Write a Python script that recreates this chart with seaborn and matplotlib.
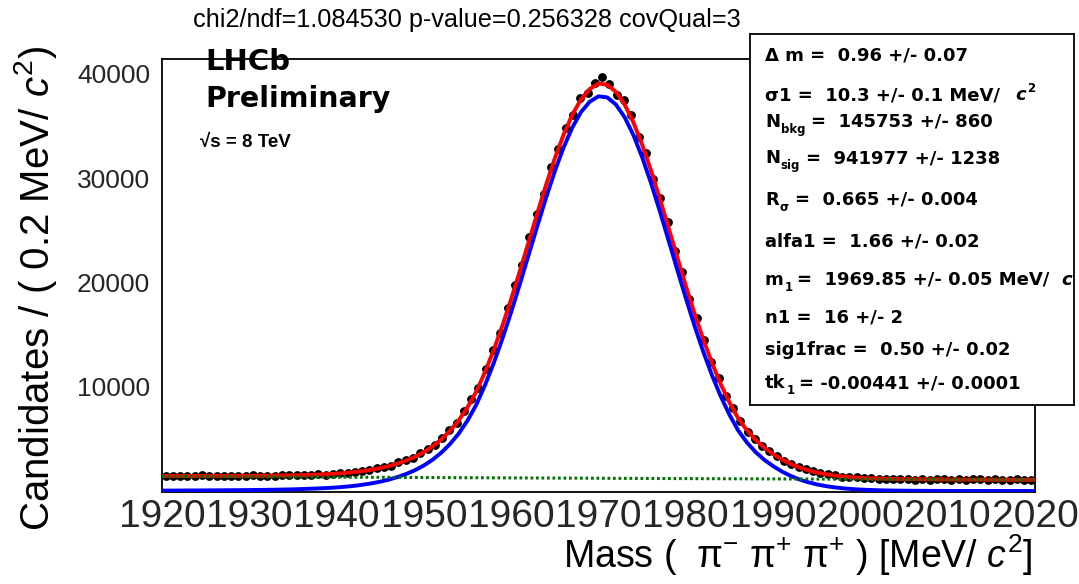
import numpy as np
import matplotlib
matplotlib.use("Agg")
import matplotlib.pyplot as plt
from matplotlib.ticker import MultipleLocator, FuncFormatter
import seaborn as sns

# ---------------------------------------------------------------- data
# Mass histogram: 120 bins of 100/120 MeV between 1920 and 2020
mass_lo, mass_hi, n_bins = 1920.0, 2020.0, 120
counts = [
    1467, 1416, 1481, 1402, 1447, 1488, 1398, 1465, 1426, 1480,
    1417, 1470, 1510, 1435, 1476, 1430, 1514, 1511, 1492, 1572,
    1543, 1615, 1579, 1670, 1738, 1715, 1836, 1955, 1983, 2160,
    2319, 2395, 2733, 2942, 3153, 3631, 4028, 4414, 5118, 5832,
    6473, 7632, 8814, 9917, 11683, 13542, 15178, 17509, 19767, 21655,
    24359, 26572, 28504, 31112, 32755, 34843, 36069, 37669, 38177, 39153,
    39722, 38984, 38016, 37488, 36085, 33920, 32438, 29872, 28054, 25757,
    23018, 21016, 18439, 16553, 14460, 12359, 10841, 9142, 7916, 6740,
    5690, 5007, 4279, 3843, 3360, 2881, 2617, 2253, 2076, 1894,
    1677, 1606, 1496, 1359, 1356, 1297, 1212, 1246, 1167, 1194,
    1184, 1127, 1152, 1099, 1152, 1092, 1121, 1132, 1073, 1114,
    1061, 1112, 1100, 1062, 1109, 1051, 1094, 1106, 1053, 1091,
]

# Fit model sampled every 1 MeV from 1920 to 2020
curve_mass = list(range(1920, 2021))
signal_curve = [
    37, 40, 44, 48, 52, 57, 62, 68, 75, 82,
    90, 100, 110, 125, 140, 160, 185, 215, 250, 290,
    340, 410, 490, 600, 730, 890, 1090, 1340, 1640, 2000,
    2450, 3000, 3680, 4510, 5520, 6760, 8270, 10150, 12270, 14630,
    17170, 19870, 22650, 25430, 28140, 30680, 32940, 34860, 36340, 37330,
    37850, 37740, 37050, 35830, 34120, 32000, 29560, 26890, 24100, 21270,
    18490, 15830, 13350, 11090, 9070, 7310, 5800, 4650, 3720, 2980,
    2380, 1870, 1450, 1110, 840, 630, 470, 350, 255, 185,
    135, 98, 71, 52, 38, 28, 20, 15, 11, 8,
    6, 4, 3, 2, 2, 1, 1, 1, 1, 0,
    0,
]
total_curve = [
    1437, 1436, 1436, 1437, 1437, 1438, 1439, 1441, 1445, 1448,
    1452, 1458, 1465, 1476, 1487, 1503, 1525, 1551, 1582, 1618,
    1665, 1731, 1807, 1914, 2040, 2196, 2393, 2639, 2936, 3292,
    3739, 4285, 4962, 5788, 6795, 8031, 9538, 11414, 13531, 15887,
    18424, 21121, 23897, 26674, 29381, 31917, 34174, 36091, 37567, 38554,
    39070, 38957, 38264, 37040, 35327, 33204, 30760, 28087, 25294, 22460,
    19677, 17014, 14531, 12268, 10245, 8482, 6968, 5815, 4882, 4138,
    3535, 3022, 2599, 2256, 1983, 1770, 1607, 1484, 1386, 1313,
    1259, 1219, 1189, 1167, 1150, 1137, 1126, 1118, 1111, 1105,
    1100, 1095, 1091, 1087, 1084, 1080, 1077, 1074, 1071, 1067,
    1065,
]
bkg_mass = [1920, 1930, 1940, 1950, 1960, 1970, 1980, 1990, 2000, 2010, 2020]
bkg_curve = [1400, 1362, 1325, 1289, 1254, 1220, 1187, 1155, 1124, 1094, 1065]

title_text = "chi2/ndf=1.084530 p-value=0.256328 covQual=3"
x_label = r"Mass (  $\mathrm{\pi}^{-}$ $\mathrm{\pi}^{+}$ $\mathrm{\pi}^{+}$ ) [MeV/ $c^{2}$]"
y_label = r"Candidates / ( 0.2 MeV/ $c^{2}$)"

# Fit-parameter box: each line is a list of (text, kind, gap-before in pt)
param_lines = [
    [("\u0394 m =  0.96 +/- 0.07", "n", 0)],
    [("\u03c31 =  10.3 +/- 0.1 MeV/", "n", 0), ("c", "it", 11), ("2", "sup", 1)],
    [("N", "n", 0), ("bkg", "sub", 0.5), ("=  145753 +/- 860", "n", 4.5)],
    [("N", "n", 0), ("sig", "sub", 0.5), ("=  941977 +/- 1238", "n", 4.5)],
    [("R", "n", 0), ("\u03c3", "sub", 0.5), ("=  0.665 +/- 0.004", "n", 4.5)],
    [("alfa1 =  1.66 +/- 0.02", "n", 0)],
    [("m", "n", 0), ("1", "sub", 0.5), ("=  1969.85 +/- 0.05 MeV/", "n", 3.5),
     ("c", "it", 8), ("2", "sup", 1)],
    [("n1 =  16 +/- 2", "n", 0)],
    [("sig1frac =  0.50 +/- 0.02", "n", 0)],
    [("tk", "n", 0), ("1", "sub", 0.5), ("= -0.00441 +/- 0.0001", "n", 3.5)],
]
param_baselines_px = [60, 100, 127, 163, 205, 247, 285, 322, 355, 388]

# ---------------------------------------------------------------- style
sns.set_theme(style="white")
plt.rcParams["font.family"] = ["Liberation Sans", "DejaVu Sans"]
plt.rcParams["mathtext.fontset"] = "custom"
plt.rcParams["mathtext.rm"] = "Liberation Sans"
plt.rcParams["mathtext.it"] = "Liberation Sans:italic"
plt.rcParams["mathtext.bf"] = "Liberation Sans:bold"

W, H = 1079, 584
fig = plt.figure(figsize=(W / 100, H / 100), dpi=100)
fig.patch.set_facecolor("white")

ax_l, ax_r, ax_t, ax_b = 162, 1035, 58.5, 491.7
ax = fig.add_axes([ax_l / W, 1 - ax_b / H, (ax_r - ax_l) / W, (ax_b - ax_t) / H])
ax.set_facecolor("white")

edges = np.linspace(mass_lo, mass_hi, n_bins + 1)
centers = 0.5 * (edges[:-1] + edges[1:])
half_w = 0.5 * (edges[1] - edges[0])
counts_arr = np.asarray(counts, dtype=float)

# data points with bin-width and Poisson error bars
ax.errorbar(centers, counts_arr, xerr=half_w, yerr=np.sqrt(counts_arr),
            fmt="none", ecolor="black", elinewidth=1.6, capsize=0, zorder=2)
sns.scatterplot(x=centers, y=counts_arr, ax=ax, color="black", s=40,
                edgecolor="black", linewidth=0, zorder=3, legend=False)

# fit curves
sns.lineplot(x=curve_mass, y=total_curve, ax=ax, color="#ff0000", linewidth=2.8,
             estimator=None, sort=False, zorder=4, legend=False)
sns.lineplot(x=curve_mass, y=signal_curve, ax=ax, color="#0000ff", linewidth=2.8,
             estimator=None, sort=False, zorder=5, legend=False)
sns.lineplot(x=bkg_mass, y=bkg_curve, ax=ax, color="#007400", linewidth=2.2,
             linestyle=(0, (0.9, 0.9)), estimator=None, sort=False, zorder=6,
             legend=False)

ax.set_xlim(mass_lo, mass_hi)
ax.set_ylim(-70, 41470)
ax.set_xlabel("")
ax.set_ylabel("")

ax.xaxis.set_major_locator(MultipleLocator(10))
ax.xaxis.set_minor_locator(MultipleLocator(2))
ax.yaxis.set_major_locator(MultipleLocator(10000))
ax.yaxis.set_minor_locator(MultipleLocator(2000))
ax.tick_params(axis="both", which="both", direction="in", top=False, right=False,
               color="black", width=1.1)
ax.tick_params(axis="x", which="major", length=8.3, labelsize=28, pad=5)
ax.tick_params(axis="x", which="minor", length=4.8)
ax.tick_params(axis="y", which="major", length=14, labelsize=19, pad=8.6)
ax.tick_params(axis="y", which="minor", length=6.2)
ax.yaxis.set_major_formatter(FuncFormatter(lambda v, p: "" if v <= 0 else f"{v:.0f}"))
for sp in ax.spines.values():
    sp.set_color("black")
    sp.set_linewidth(1.3)
ax.grid(False)

# axis titles
fig.text(1033 / W, 1 - 568 / H, x_label, fontsize=27, ha="right", va="baseline",
         color="black")
fig.text(36 / W, 1 - 288 / H, y_label, fontsize=29, rotation=90, ha="center",
         va="center", color="black")

# title and experiment labels
fig.text(193 / W, 1 - 27 / H, title_text, fontsize=18.2, ha="left", va="baseline",
         color="black")
fig.text(205 / W, 1 - 70 / H, "LHCb", fontsize=21, fontweight="bold",
         family="DejaVu Sans", ha="left", va="baseline", color="black", zorder=1)
fig.text(205 / W, 1 - 107 / H, "Preliminary", fontsize=20.5, fontweight="bold",
         family="DejaVu Sans", ha="left", va="baseline", color="black")
fig.text(200 / W, 1 - 146.7 / H, "\u221as = 8 TeV", fontsize=13.5, fontweight="bold",
         family=["Liberation Sans", "DejaVu Sans"], ha="left", va="baseline",
         color="black")

# fit-parameter box
bx0, bx1, by0, by1 = 750, 1074, 33.5, 405
axp = fig.add_axes([bx0 / W, 1 - by1 / H, (bx1 - bx0) / W, (by1 - by0) / H], zorder=10)
axp.set_facecolor("white")
axp.set_xticks([])
axp.set_yticks([])
for sp in axp.spines.values():
    sp.set_color("black")
    sp.set_linewidth(1.3)

base_size = 13
for parts, base_px in zip(param_lines, param_baselines_px):
    yb = 1 - base_px / H
    prev = None
    for text, kind, gap in parts:
        size = base_size if kind in ("n", "it") else base_size * 0.65
        dy = {"n": 0, "it": 0, "sub": -4.5, "sup": 5.5}[kind]
        style = "italic" if kind == "it" else "normal"
        kw = dict(fontsize=size, fontweight="bold", fontstyle=style,
                  family=["DejaVu Sans"], color="black", ha="left", va="baseline")
        if prev is None:
            t = axp.text(765 / W, yb, text, transform=fig.transFigure, **kw)
        else:
            t = axp.annotate(text, xy=(1, yb), xycoords=(prev, fig.transFigure),
                             xytext=(gap, dy), textcoords="offset points", **kw)
        t.set_clip_on(True)
        t.set_clip_box(axp.bbox)
        prev = t

fig.savefig("out.png", dpi=100, facecolor="white")
